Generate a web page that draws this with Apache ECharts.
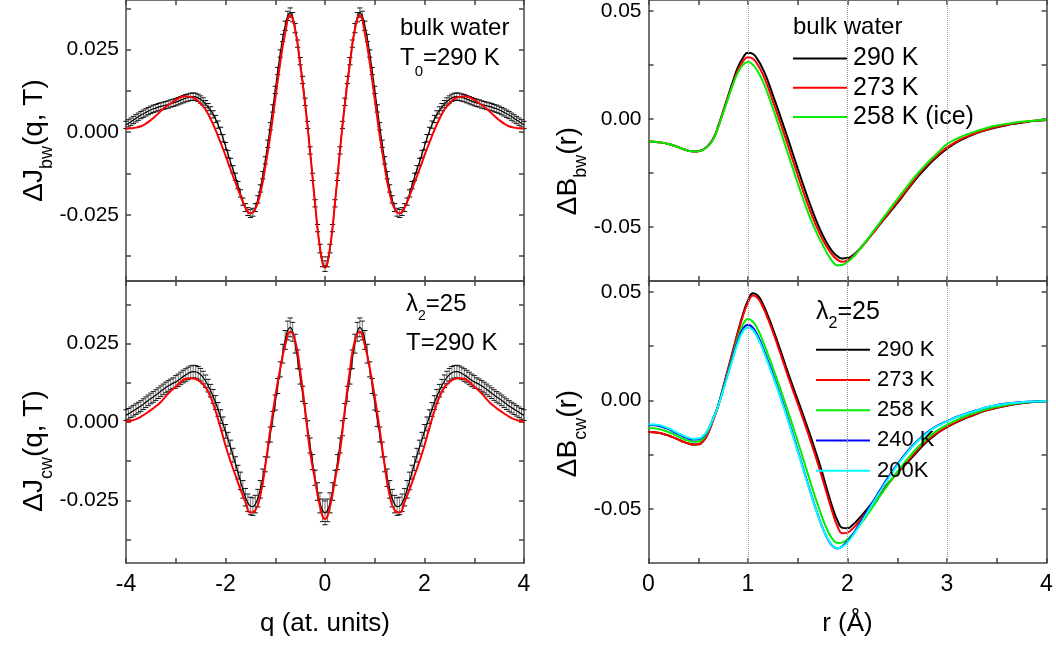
<!DOCTYPE html>
<html><head><meta charset="utf-8">
<script src="https://cdn.jsdelivr.net/npm/echarts@6/dist/echarts.min.js"></script>
<style>html,body{margin:0;padding:0;background:#fff}#c{width:1056px;height:645px}</style>
</head><body><div id="c"></div>
<script>
// ---------- data: left panels (q in atomic units) ----------
const qData = [-4,-3.95,-3.9,-3.85,-3.8,-3.75,-3.7,-3.65,-3.6,-3.55,-3.5,-3.45,-3.4,-3.35,-3.3,-3.25,-3.2,-3.15,-3.1,-3.05,
-3,-2.95,-2.9,-2.85,-2.8,-2.75,-2.7,-2.65,-2.6,-2.55,-2.5,-2.45,-2.4,-2.35,-2.3,-2.25,-2.2,-2.15,-2.1,-2.05,
-2,-1.95,-1.9,-1.85,-1.8,-1.75,-1.7,-1.65,-1.6,-1.55,-1.5,-1.45,-1.4,-1.35,-1.3,-1.25,-1.2,-1.15,-1.1,-1.05,
-1,-0.95,-0.9,-0.85,-0.8,-0.75,-0.7,-0.65,-0.6,-0.55,-0.5,-0.45,-0.4,-0.35,-0.3,-0.25,-0.2,-0.15,-0.1,-0.05,
0,
0.05,0.1,0.15,0.2,0.25,0.3,0.35,0.4,0.45,0.5,0.55,0.6,0.65,0.7,0.75,0.8,0.85,0.9,0.95,1,
1.05,1.1,1.15,1.2,1.25,1.3,1.35,1.4,1.45,1.5,1.55,1.6,1.65,1.7,1.75,1.8,1.85,1.9,1.95,2,
2.05,2.1,2.15,2.2,2.25,2.3,2.35,2.4,2.45,2.5,2.55,2.6,2.65,2.7,2.75,2.8,2.85,2.9,2.95,3,
3.05,3.1,3.15,3.2,3.25,3.3,3.35,3.4,3.45,3.5,3.55,3.6,3.65,3.7,3.75,3.8,3.85,3.9,3.95,4];

const jbwData = [0.0022,0.0027,0.0032,0.0037,0.0042,0.0047,0.0052,0.0056,0.0060,0.0064,
0.0068,0.0071,0.0073,0.0076,0.0078,0.0080,0.0082,0.0084,0.0087,0.0089,
0.0091,0.0094,0.0097,0.0100,0.0103,0.0105,0.0107,0.0108,0.0107,0.0104,
0.0099,0.0093,0.0085,0.0076,0.0066,0.0054,0.0040,0.0023,0.0004,-0.0018,
-0.0042,-0.0066,-0.0090,-0.0112,-0.0135,-0.0160,-0.0185,-0.0210,-0.0228,-0.0240,
-0.0246,-0.0242,-0.0228,-0.0203,-0.0170,-0.0130,-0.0085,-0.0035,0.0018,0.0072,
0.0128,0.0185,0.0238,0.0285,0.0322,0.0352,0.0362,0.0348,0.0315,0.0268,
0.0215,0.0158,0.0092,0.0022,-0.0055,-0.0135,-0.0215,-0.0290,-0.0352,-0.0392,
-0.0405,
-0.0392,-0.0352,-0.0290,-0.0215,-0.0135,-0.0055,0.0022,0.0092,0.0158,0.0215,
0.0268,0.0315,0.0348,0.0362,0.0352,0.0322,0.0285,0.0238,0.0185,0.0128,
0.0072,0.0018,-0.0035,-0.0085,-0.0130,-0.0170,-0.0203,-0.0228,-0.0242,-0.0246,
-0.0240,-0.0228,-0.0210,-0.0185,-0.0160,-0.0135,-0.0112,-0.0090,-0.0066,-0.0042,
-0.0018,0.0004,0.0023,0.0040,0.0054,0.0066,0.0076,0.0085,0.0093,0.0099,
0.0104,0.0107,0.0108,0.0107,0.0105,0.0103,0.0100,0.0097,0.0094,0.0091,
0.0089,0.0087,0.0084,0.0082,0.0080,0.0078,0.0076,0.0073,0.0071,0.0068,
0.0064,0.0060,0.0056,0.0052,0.0047,0.0042,0.0037,0.0032,0.0027,0.0022];

const jbwErr = [0.0011,0.0011,0.0011,0.0011,0.0011,0.0011,0.0011,0.0011,0.0011,0.0011,
0.0011,0.0011,0.0011,0.0011,0.0011,0.0011,0.0011,0.0011,0.0011,0.0011,
0.0011,0.0011,0.0011,0.0011,0.0011,0.0011,0.0011,0.0011,0.0011,0.0011,
0.0011,0.0011,0.0011,0.0011,0.0011,0.0011,0.0011,0.0011,0.0011,0.0011,
0.0011,0.0011,0.0011,0.0011,0.0011,0.0011,0.0011,0.0011,0.0012,0.0012,
0.0012,0.0012,0.0012,0.0011,0.0011,0.0011,0.0011,0.0011,0.0011,0.0011,
0.0011,0.0011,0.0011,0.0011,0.0014,0.0014,0.0014,0.0014,0.0014,0.0011,
0.0011,0.0011,0.0011,0.0011,0.0011,0.0011,0.0011,0.0011,0.0013,0.0015,
0.0016,
0.0015,0.0013,0.0011,0.0011,0.0011,0.0011,0.0011,0.0011,0.0011,0.0011,
0.0011,0.0014,0.0014,0.0014,0.0014,0.0014,0.0011,0.0011,0.0011,0.0011,
0.0011,0.0011,0.0011,0.0011,0.0011,0.0011,0.0011,0.0012,0.0012,0.0012,
0.0012,0.0012,0.0011,0.0011,0.0011,0.0011,0.0011,0.0011,0.0011,0.0011,
0.0011,0.0011,0.0011,0.0011,0.0011,0.0011,0.0011,0.0011,0.0011,0.0011,
0.0011,0.0011,0.0011,0.0011,0.0011,0.0011,0.0011,0.0011,0.0011,0.0011,
0.0011,0.0011,0.0011,0.0011,0.0011,0.0011,0.0011,0.0011,0.0011,0.0011,
0.0011,0.0011,0.0011,0.0011,0.0011,0.0011,0.0011,0.0011,0.0011,0.0011];

const jcwData = [0.0022,0.0026,0.0031,0.0036,0.0041,0.0046,0.0051,0.0057,0.0063,0.0069,
0.0075,0.0080,0.0086,0.0092,0.0098,0.0104,0.0110,0.0115,0.0120,0.0124,
0.0128,0.0133,0.0139,0.0145,0.0150,0.0155,0.0159,0.0161,0.0160,0.0157,
0.0151,0.0142,0.0130,0.0116,0.0100,0.0082,0.0062,0.0040,0.0017,-0.0006,
-0.0030,-0.0055,-0.0080,-0.0106,-0.0133,-0.0160,-0.0188,-0.0215,-0.0240,-0.0258,
-0.0268,-0.0270,-0.0262,-0.0243,-0.0215,-0.0178,-0.0135,-0.0088,-0.0040,0.0010,
0.0062,0.0115,0.0168,0.0218,0.0262,0.0292,0.0302,0.0288,0.0250,0.0200,
0.0145,0.0090,0.0035,-0.0020,-0.0075,-0.0128,-0.0178,-0.0222,-0.0258,-0.0282,
-0.0290,
-0.0282,-0.0258,-0.0222,-0.0178,-0.0128,-0.0075,-0.0020,0.0035,0.0090,0.0145,
0.0200,0.0250,0.0288,0.0302,0.0292,0.0262,0.0218,0.0168,0.0115,0.0062,
0.0010,-0.0040,-0.0088,-0.0135,-0.0178,-0.0215,-0.0243,-0.0262,-0.0270,-0.0268,
-0.0258,-0.0240,-0.0215,-0.0188,-0.0160,-0.0133,-0.0106,-0.0080,-0.0055,-0.0030,
-0.0006,0.0017,0.0040,0.0062,0.0082,0.0100,0.0116,0.0130,0.0142,0.0151,
0.0157,0.0160,0.0161,0.0159,0.0155,0.0150,0.0145,0.0139,0.0133,0.0128,
0.0124,0.0120,0.0115,0.0110,0.0104,0.0098,0.0092,0.0086,0.0080,0.0075,
0.0069,0.0063,0.0057,0.0051,0.0046,0.0041,0.0036,0.0031,0.0026,0.0022];

const jcwErr = [0.0017,0.0017,0.0017,0.0017,0.0017,0.0017,0.0017,0.0017,0.0017,0.0017,
0.0017,0.0017,0.0017,0.0017,0.0017,0.0017,0.0017,0.0017,0.0017,0.0017,
0.0020,0.0020,0.0020,0.0020,0.0020,0.0020,0.0020,0.0020,0.0020,0.0020,
0.0020,0.0020,0.0020,0.0020,0.0020,0.0022,0.0022,0.0022,0.0022,0.0022,
0.0022,0.0022,0.0022,0.0022,0.0022,0.0022,0.0028,0.0028,0.0028,0.0028,
0.0028,0.0028,0.0028,0.0028,0.0028,0.0028,0.0024,0.0024,0.0024,0.0024,
0.0024,0.0024,0.0024,0.0030,0.0030,0.0030,0.0030,0.0030,0.0030,0.0030,
0.0024,0.0024,0.0024,0.0024,0.0024,0.0024,0.0024,0.0028,0.0032,0.0036,
0.0038,
0.0036,0.0032,0.0028,0.0024,0.0024,0.0024,0.0024,0.0024,0.0024,0.0024,
0.0030,0.0030,0.0030,0.0030,0.0030,0.0030,0.0030,0.0024,0.0024,0.0024,
0.0024,0.0024,0.0024,0.0024,0.0028,0.0028,0.0028,0.0028,0.0028,0.0028,
0.0028,0.0028,0.0028,0.0028,0.0022,0.0022,0.0022,0.0022,0.0022,0.0022,
0.0022,0.0022,0.0022,0.0022,0.0022,0.0020,0.0020,0.0020,0.0020,0.0020,
0.0020,0.0020,0.0020,0.0020,0.0020,0.0020,0.0020,0.0020,0.0020,0.0020,
0.0017,0.0017,0.0017,0.0017,0.0017,0.0017,0.0017,0.0017,0.0017,0.0017,
0.0017,0.0017,0.0017,0.0017,0.0017,0.0017,0.0017,0.0017,0.0017,0.0017];

const qFit = [-4,-3.9,-3.8,-3.7,-3.6,-3.5,-3.4,-3.3,-3.2,-3.1,-3,-2.9,-2.8,-2.7,-2.6,-2.5,-2.4,-2.3,-2.2,-2.1,
-2,-1.9,-1.8,-1.7,-1.6,-1.5,-1.4,-1.3,-1.2,-1.1,-1,-0.9,-0.8,-0.7,-0.6,-0.5,-0.4,-0.3,-0.2,-0.1,
0,
0.1,0.2,0.3,0.4,0.5,0.6,0.7,0.8,0.9,1,1.1,1.2,1.3,1.4,1.5,1.6,1.7,1.8,1.9,2,
2.1,2.2,2.3,2.4,2.5,2.6,2.7,2.8,2.9,3,3.1,3.2,3.3,3.4,3.5,3.6,3.7,3.8,3.9,4];

const jbwFit = [0.0011,0.0012,0.0014,0.0018,0.0026,0.0037,0.0050,0.0064,0.0077,0.0087,
0.0098,0.0106,0.0109,0.0107,0.0101,0.0086,0.0068,0.0040,0.0007,-0.0031,
-0.0070,-0.0112,-0.0152,-0.0192,-0.0228,-0.0246,-0.0232,-0.0185,-0.0105,-0.0010,
0.0100,0.0210,0.0300,0.0354,0.0310,0.0205,0.0085,-0.0058,-0.0215,-0.0350,
-0.0410,
-0.0350,-0.0215,-0.0058,0.0085,0.0205,0.0310,0.0354,0.0300,0.0210,0.0100,
-0.0010,-0.0105,-0.0185,-0.0232,-0.0246,-0.0228,-0.0192,-0.0152,-0.0112,-0.0070,
-0.0031,0.0007,0.0040,0.0068,0.0086,0.0101,0.0107,0.0109,0.0106,0.0098,
0.0087,0.0077,0.0064,0.0050,0.0037,0.0026,0.0018,0.0014,0.0012,0.0011];

const jcwFit = [0.0001,0.0004,0.0009,0.0017,0.0027,0.0038,0.0050,0.0064,0.0082,0.0099,
0.0113,0.0128,0.0138,0.0140,0.0137,0.0128,0.0110,0.0080,0.0035,-0.0018,
-0.0075,-0.0125,-0.0170,-0.0215,-0.0255,-0.0289,-0.0282,-0.0235,-0.0140,-0.0025,
0.0080,0.0171,0.0245,0.0288,0.0260,0.0165,0.0040,-0.0095,-0.0185,-0.0270,
-0.0310,
-0.0270,-0.0185,-0.0095,0.0040,0.0165,0.0260,0.0288,0.0245,0.0171,0.0080,
-0.0025,-0.0140,-0.0235,-0.0282,-0.0289,-0.0255,-0.0215,-0.0170,-0.0125,-0.0075,
-0.0018,0.0035,0.0080,0.0110,0.0128,0.0137,0.0140,0.0138,0.0128,0.0113,
0.0099,0.0082,0.0064,0.0050,0.0038,0.0027,0.0017,0.0009,0.0004,0.0001];

// ---------- data: right panels (r in Angstrom) ----------
const rVals = [0,0.05,0.1,0.15,0.2,0.25,0.3,0.35,0.4,0.45,
0.5,0.55,0.6,0.65,0.7,0.75,0.8,0.85,0.9,0.95,
1,1.05,1.1,1.15,1.2,1.25,1.3,1.35,1.4,1.45,
1.5,1.55,1.6,1.65,1.7,1.75,1.8,1.85,1.9,1.95,
2,2.05,2.1,2.15,2.2,2.25,2.3,2.35,2.4,2.45,
2.5,2.6,2.7,2.8,2.9,3,3.1,3.2,3.3,3.4,3.5,3.6,3.7,3.8,3.9,4];

const bbw290 = [-0.0105,-0.0106,-0.0108,-0.0111,-0.0116,-0.0123,-0.0131,-0.0140,-0.0147,-0.0151,
-0.0150,-0.0142,-0.0124,-0.0092,-0.0035,0.0035,0.0106,0.0176,0.0240,0.0283,
0.0306,0.0300,0.0272,0.0230,0.0175,0.0110,0.0045,-0.0022,-0.0090,-0.0160,
-0.0230,-0.0298,-0.0365,-0.0428,-0.0486,-0.0537,-0.0580,-0.0614,-0.0636,-0.0646,
-0.0644,-0.0632,-0.0612,-0.0587,-0.0560,-0.0531,-0.0502,-0.0474,-0.0446,-0.0418,
-0.0390,-0.0330,-0.0272,-0.0220,-0.0176,-0.0138,-0.0108,-0.0085,-0.0066,-0.0051,-0.0039,-0.0029,-0.0021,-0.0014,-0.0009,-0.0005];
const bbw273 = [-0.0105,-0.0106,-0.0108,-0.0111,-0.0116,-0.0123,-0.0131,-0.0140,-0.0147,-0.0151,
-0.0150,-0.0142,-0.0124,-0.0093,-0.0037,0.0032,0.0100,0.0166,0.0226,0.0266,
0.0285,0.0278,0.0248,0.0205,0.0148,0.0082,0.0016,-0.0052,-0.0121,-0.0191,
-0.0261,-0.0329,-0.0394,-0.0455,-0.0510,-0.0557,-0.0598,-0.0630,-0.0652,-0.0661,
-0.0655,-0.0638,-0.0615,-0.0589,-0.0561,-0.0532,-0.0502,-0.0472,-0.0443,-0.0413,
-0.0384,-0.0325,-0.0265,-0.0213,-0.0170,-0.0132,-0.0104,-0.0082,-0.0064,-0.0049,-0.0037,-0.0027,-0.0019,-0.0013,-0.0008,-0.0005];
const bbw258 = [-0.0105,-0.0106,-0.0108,-0.0111,-0.0116,-0.0123,-0.0131,-0.0140,-0.0147,-0.0151,
-0.0150,-0.0143,-0.0126,-0.0095,-0.0040,0.0028,0.0095,0.0160,0.0215,0.0250,
0.0263,0.0250,0.0218,0.0172,0.0115,0.0050,-0.0018,-0.0088,-0.0158,-0.0228,
-0.0298,-0.0365,-0.0428,-0.0486,-0.0537,-0.0582,-0.0625,-0.0660,-0.0678,-0.0675,
-0.0662,-0.0642,-0.0616,-0.0587,-0.0557,-0.0526,-0.0495,-0.0464,-0.0433,-0.0402,
-0.0372,-0.0312,-0.0255,-0.0205,-0.0160,-0.0117,-0.0092,-0.0072,-0.0056,-0.0042,-0.0031,-0.0023,-0.0016,-0.0011,-0.0007,-0.0004];

const bcw290 = [-0.0146,-0.0147,-0.0150,-0.0155,-0.0162,-0.0171,-0.0181,-0.0191,-0.0199,-0.0204,
-0.0203,-0.0188,-0.0150,-0.0090,-0.0025,0.0060,0.0145,0.0232,0.0318,0.0398,
0.0460,0.0494,0.0482,0.0443,0.0390,0.0330,0.0265,0.0198,0.0130,0.0065,
0.0002,-0.0062,-0.0128,-0.0195,-0.0265,-0.0340,-0.0420,-0.0495,-0.0555,-0.0588,
-0.0590,-0.0575,-0.0553,-0.0527,-0.0500,-0.0472,-0.0444,-0.0416,-0.0388,-0.0361,
-0.0334,-0.0288,-0.0237,-0.0190,-0.0153,-0.0124,-0.0100,-0.0080,-0.0062,-0.0046,-0.0035,-0.0025,-0.0017,-0.0011,-0.0007,-0.0004];
const bcw273 = [-0.0146,-0.0147,-0.0150,-0.0155,-0.0162,-0.0171,-0.0181,-0.0191,-0.0199,-0.0204,
-0.0203,-0.0188,-0.0151,-0.0092,-0.0027,0.0057,0.0141,0.0227,0.0311,0.0390,
0.0450,0.0483,0.0470,0.0430,0.0376,0.0315,0.0250,0.0182,0.0114,0.0048,
-0.0016,-0.0081,-0.0148,-0.0217,-0.0289,-0.0365,-0.0442,-0.0518,-0.0582,-0.0613,
-0.0610,-0.0592,-0.0568,-0.0540,-0.0510,-0.0480,-0.0450,-0.0420,-0.0391,-0.0362,
-0.0334,-0.0284,-0.0230,-0.0185,-0.0150,-0.0122,-0.0098,-0.0078,-0.0061,-0.0045,-0.0034,-0.0024,-0.0016,-0.0010,-0.0006,-0.0004];
const bcw258 = [-0.0128,-0.0129,-0.0132,-0.0138,-0.0146,-0.0156,-0.0167,-0.0178,-0.0186,-0.0191,
-0.0190,-0.0176,-0.0140,-0.0085,-0.0025,0.0052,0.0130,0.0210,0.0290,0.0350,
0.0375,0.0362,0.0325,0.0272,0.0212,0.0150,0.0085,0.0020,-0.0048,-0.0118,
-0.0190,-0.0263,-0.0337,-0.0410,-0.0480,-0.0545,-0.0600,-0.0640,-0.0658,-0.0655,
-0.0640,-0.0618,-0.0590,-0.0560,-0.0527,-0.0494,-0.0460,-0.0426,-0.0393,-0.0361,
-0.0330,-0.0272,-0.0220,-0.0176,-0.0140,-0.0113,-0.0090,-0.0071,-0.0055,-0.0040,-0.0030,-0.0021,-0.0014,-0.0009,-0.0006,-0.0004];
const bcw240 = [-0.0114,-0.0115,-0.0118,-0.0124,-0.0133,-0.0144,-0.0156,-0.0167,-0.0176,-0.0181,
-0.0180,-0.0167,-0.0134,-0.0082,-0.0024,0.0050,0.0126,0.0203,0.0278,0.0330,
0.0348,0.0334,0.0295,0.0242,0.0182,0.0120,0.0055,-0.0012,-0.0082,-0.0155,
-0.0230,-0.0306,-0.0382,-0.0455,-0.0525,-0.0588,-0.0638,-0.0672,-0.0683,-0.0672,
-0.0650,-0.0620,-0.0585,-0.0548,-0.0510,-0.0472,-0.0434,-0.0397,-0.0361,-0.0327,
-0.0295,-0.0237,-0.0188,-0.0148,-0.0118,-0.0096,-0.0076,-0.0060,-0.0046,-0.0032,-0.0022,-0.0015,-0.0010,-0.0007,-0.0005,-0.0003];
const bcw200 = [-0.0110,-0.0111,-0.0114,-0.0120,-0.0129,-0.0140,-0.0152,-0.0163,-0.0172,-0.0177,
-0.0176,-0.0164,-0.0133,-0.0083,-0.0026,0.0046,0.0121,0.0196,0.0268,0.0318,
0.0336,0.0323,0.0285,0.0233,0.0173,0.0111,0.0047,-0.0020,-0.0090,-0.0162,
-0.0236,-0.0311,-0.0386,-0.0458,-0.0527,-0.0589,-0.0637,-0.0670,-0.0682,-0.0675,
-0.0655,-0.0626,-0.0592,-0.0555,-0.0517,-0.0479,-0.0441,-0.0404,-0.0368,-0.0333,
-0.0300,-0.0241,-0.0191,-0.0151,-0.0120,-0.0097,-0.0077,-0.0061,-0.0047,-0.0032,-0.0023,-0.0016,-0.0011,-0.0007,-0.0005,-0.0003];

// ---------- ticks & labels ----------
const qTicks = [-4,-3,-2,-1,0,1,2,3,4];
const qLabels = [-4,-2,0,2,4];
const rTicks = [0,0.5,1,1.5,2,2.5,3,3.5,4];
const rLabels = [0,1,2,3,4];
const jTicks = [-0.0375,-0.025,-0.0125,0,0.0125,0.025,0.0375];
const jLabels = [-0.025,0,0.025];
const bTicks = [-0.05,-0.025,0,0.025,0.05];
const bLabels = [-0.05,0,0.05];
const rGridLines = [1,2,3];

const bwNames = ['290 K','273 K','258 K (ice)'];
const cwNames = ['290 K','273 K','258 K','240 K','200K'];

// ---------- chart ----------
const FONT = '"Liberation Sans", Arial, sans-serif';
const AX = '#444';

function xAxisDef(gi, min, max, ticks, labels, pos, showLabel, name) {
  return {
    type:'value', gridIndex:gi, min:min, max:max, position:pos,
    axisLine:{show:true, onZero:false, lineStyle:{color:AX, width:1.5}},
    axisTick:{show:true, inside:true, length:5, customValues:ticks, lineStyle:{color:AX, width:1.5}},
    axisLabel:{show:showLabel, customValues:labels, formatter:function(v){return String(v);},
      color:'#000', fontSize:23, fontFamily:FONT, margin:10},
    splitLine:{show:false},
    name:name||'', nameLocation:'middle', nameGap:48,
    nameTextStyle:{fontSize:26, fontFamily:FONT, color:'#000'}
  };
}
function yAxisDef(gi, min, max, ticks, labels, pos, showLabel, digits, name, gap, shift) {
  const F = 28, S = 18;
  return {
    type:'value', gridIndex:gi, min:min, max:max, position:pos,
    axisLine:{show:true, onZero:false, lineStyle:{color:AX, width:1.5}},
    axisTick:{show:true, inside:true, length:5, customValues:ticks, lineStyle:{color:AX, width:1.5}},
    axisLabel:{show:showLabel, customValues:labels, formatter:function(v){return v.toFixed(digits);},
      color:'#000', fontSize:21, fontFamily:FONT, margin:7},
    splitLine:{show:false},
    name:name||'', nameLocation:'middle', nameRotate:90, nameGap:gap||0,
    nameTextStyle:{padding:[0, shift||0, 0, 0], rich:{
      m:{fontSize:F, lineHeight:F, fontFamily:FONT, color:'#000', verticalAlign:'top'},
      s:{fontSize:S, lineHeight:S, fontFamily:FONT, color:'#000', verticalAlign:'top', padding:[17,0,0,0]}
    }}
  };
}
function richTitle(text, left, top, F, S, p) {
  return {text:text, left:left, top:top, padding:0, textStyle:{fontWeight:'normal', rich:{
    m:{fontSize:F, lineHeight:F, fontFamily:FONT, color:'#000', verticalAlign:'top', fontWeight:'normal'},
    s:{fontSize:S, lineHeight:S, fontFamily:FONT, color:'#000', verticalAlign:'top', padding:[p,0,0,0], fontWeight:'normal'}
  }}};
}

function errBars(q, v, e) { return q.map(function(x,i){ return [x, v[i], e[i]]; }); }
function pairs(x, y) { return x.map(function(a,i){ return [a, y[i]]; }); }

function renderErr(params, api) {
  const x = api.value(0), y = api.value(1), e = api.value(2);
  const lo = api.coord([x, y - e]), hi = api.coord([x, y + e]);
  const hw = 2.6;
  return {type:'group', children:[
    {type:'line', shape:{x1:lo[0], y1:lo[1], x2:hi[0], y2:hi[1]}, style:{stroke:'#777', lineWidth:1}},
    {type:'line', shape:{x1:lo[0]-hw, y1:lo[1], x2:lo[0]+hw, y2:lo[1]}, style:{stroke:'#111', lineWidth:1}},
    {type:'line', shape:{x1:hi[0]-hw, y1:hi[1], x2:hi[0]+hw, y2:hi[1]}, style:{stroke:'#111', lineWidth:1}}
  ]};
}

function curve(name, xi, yi, x, y, color, width, z) {
  return {type:'line', name:name, xAxisIndex:xi, yAxisIndex:yi, data:pairs(x, y), smooth:true,
    showSymbol:false, symbol:'none', z:z||3, color:color,
    itemStyle:{color:color}, lineStyle:{color:color, width:width}};
}

const gridMark = {silent:true, symbol:['none','none'], label:{show:false},
  lineStyle:{color:'#999', type:'dotted', width:1}, data:rGridLines.map(function(v){return {xAxis:v};})};

const option = {
  animation:false,
  backgroundColor:'#fff',
  grid:[
    {left:126, top:0, width:398, height:281},
    {left:126, top:281, width:398, height:282},
    {left:648.5, top:0, width:398, height:281},
    {left:648.5, top:281, width:398, height:282}
  ],
  xAxis:[
    xAxisDef(0,-4,4,qTicks,qLabels,'bottom',false),
    xAxisDef(0,-4,4,qTicks,qLabels,'top',false),
    xAxisDef(1,-4,4,qTicks,qLabels,'bottom',true,'q (at. units)'),
    xAxisDef(1,-4,4,qTicks,qLabels,'top',false),
    xAxisDef(2,0,4,rTicks,rLabels,'bottom',false),
    xAxisDef(2,0,4,rTicks,rLabels,'top',false),
    xAxisDef(3,0,4,rTicks,rLabels,'bottom',true,'r (Å)'),
    xAxisDef(3,0,4,rTicks,rLabels,'top',false)
  ],
  yAxis:[
    yAxisDef(0,-0.045,0.04,jTicks,jLabels,'left',true,3,'{m|ΔJ}{s|bw}{m|(q, T)}',76,0),
    yAxisDef(0,-0.045,0.04,jTicks,jLabels,'right',false,3),
    yAxisDef(1,-0.045,0.045,jTicks,jLabels,'left',true,3,'{m|ΔJ}{s|cw}{m|(q, T)}',75,58),
    yAxisDef(1,-0.045,0.045,jTicks,jLabels,'right',false,3),
    yAxisDef(2,-0.075,0.055,bTicks,bLabels,'left',true,2,'{m|ΔB}{s|bw}{m|(r)}',57,61),
    yAxisDef(2,-0.075,0.055,bTicks,bLabels,'right',false,2),
    yAxisDef(3,-0.075,0.055,bTicks,bLabels,'left',true,2,'{m|ΔB}{s|cw}{m|(r)}',57,23),
    yAxisDef(3,-0.075,0.055,bTicks,bLabels,'right',false,2)
  ],
  title:[
    {text:'bulk water', left:400, top:16, padding:0, textStyle:{fontSize:24, lineHeight:24, fontFamily:FONT, color:'#000', fontWeight:'normal'}},
    richTitle('{m|T}{s|0}{m|=290 K}', 400, 46, 24, 15, 18),
    richTitle('{m|λ}{s|2}{m|=25}', 406, 292, 24, 14, 17),
    {text:'T=290 K', left:406, top:331, padding:0, textStyle:{fontSize:24, lineHeight:24, fontFamily:FONT, color:'#000', fontWeight:'normal'}},
    {text:'bulk water', left:793, top:15, padding:0, textStyle:{fontSize:24, lineHeight:24, fontFamily:FONT, color:'#000', fontWeight:'normal'}},
    richTitle('{m|λ}{s|2}{m|=25}', 816, 300, 25, 16, 16)
  ],
  legend:[
    {data:bwNames, left:793, top:44, orient:'vertical', icon:'rect', itemWidth:54, itemHeight:2, itemGap:0,
     padding:0, selectedMode:false, textStyle:{fontSize:25, lineHeight:29.2, fontFamily:FONT, color:'#000', padding:[0,0,0,1]}},
    {data:cwNames, left:816, top:334.5, orient:'vertical', icon:'rect', itemWidth:54, itemHeight:2, itemGap:0,
     padding:0, selectedMode:false, textStyle:{fontSize:22, lineHeight:30.25, fontFamily:FONT, color:'#000', padding:[0,0,0,2]}}
  ],
  series:[
    {type:'custom', name:'bw err', xAxisIndex:0, yAxisIndex:0, renderItem:renderErr, data:errBars(qData, jbwData, jbwErr), z:1, silent:true},
    curve('bw data', 0, 0, qData, jbwData, '#000', 1.2, 2),
    curve('bw fit', 0, 0, qFit, jbwFit, '#ff0000', 2, 4),
    {type:'custom', name:'cw err', xAxisIndex:2, yAxisIndex:2, renderItem:renderErr, data:errBars(qData, jcwData, jcwErr), z:1, silent:true},
    curve('cw data', 2, 2, qData, jcwData, '#000', 1.2, 2),
    curve('cw fit', 2, 2, qFit, jcwFit, '#ff0000', 2, 4),
    Object.assign(curve(bwNames[0], 4, 4, rVals, bbw290, '#000', 2, 3), {markLine:gridMark}),
    curve(bwNames[1], 4, 4, rVals, bbw273, '#ff0000', 2, 3),
    curve(bwNames[2], 4, 4, rVals, bbw258, '#00ee00', 2, 3),
    Object.assign(curve(cwNames[0], 6, 6, rVals, bcw290, '#000', 2, 3), {markLine:gridMark}),
    curve(cwNames[1], 6, 6, rVals, bcw273, '#ff0000', 2, 3),
    curve(cwNames[2], 6, 6, rVals, bcw258, '#00ee00', 2, 3),
    curve(cwNames[3], 6, 6, rVals, bcw240, '#0000ff', 2, 3),
    curve(cwNames[4], 6, 6, rVals, bcw200, '#00ffff', 2, 3)
  ]
};
const chart = echarts.init(document.getElementById('c'), null, {renderer:'canvas'});
chart.setOption(option);
</script>
</body></html>
